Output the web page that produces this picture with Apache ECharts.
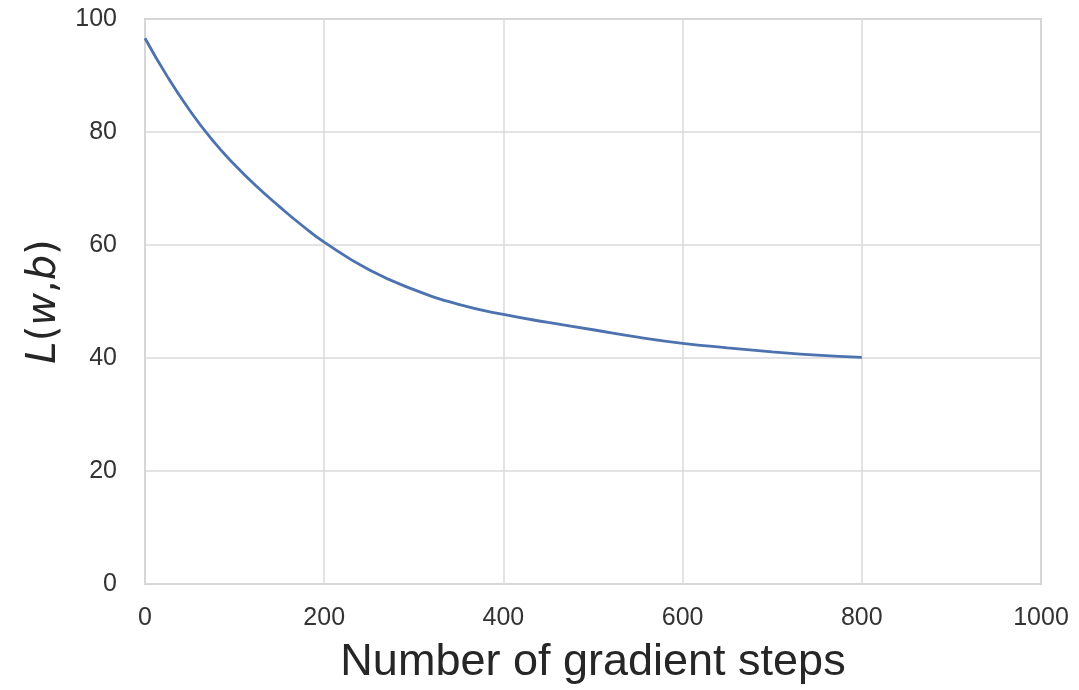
<!DOCTYPE html>
<html>
<head>
<meta charset="utf-8">
<script src="https://cdn.jsdelivr.net/npm/echarts@6/dist/echarts.min.js"></script>
<style>
html,body{margin:0;padding:0;background:#fff;}
#chart{width:1079px;height:690px;}
</style>
</head>
<body>
<div id="chart"></div>
<script>
const steps = [0, 25, 50, 75, 100, 125, 150, 175, 200, 250, 300, 350, 400, 450, 500, 550, 600, 650, 700, 750, 800];
const loss = [96.6, 89.8, 83.8, 78.6, 74.2, 70.3, 66.8, 63.5, 60.5, 55.6, 52.1, 49.5, 47.7, 46.3, 45.0, 43.7, 42.6, 41.8, 41.1, 40.5, 40.1];
const xTicks = [0, 200, 400, 600, 800, 1000];
const yTicks = [0, 20, 40, 60, 80, 100];

const chart = echarts.init(document.getElementById('chart'), null, {renderer: 'canvas'});
const font = '"Liberation Sans", Arial, sans-serif';
chart.setOption({
  animation: false,
  backgroundColor: '#ffffff',
  grid: {left: 145, right: 38, top: 19, bottom: 105, show: true, borderColor: '#cccccc', borderWidth: 2, backgroundColor: 'transparent'},
  xAxis: {
    type: 'value', min: xTicks[0], max: xTicks[xTicks.length - 1], interval: 200,
    name: 'Number of gradient steps', nameLocation: 'middle', nameGap: 56,
    nameTextStyle: {fontFamily: font, fontSize: 45, color: '#262626'},
    axisLine: {show: false}, axisTick: {show: false},
    axisLabel: {fontFamily: font, fontSize: 25, color: '#333333', margin: 22, formatter: v => String(v)},
    splitLine: {show: true, lineStyle: {color: '#dadada', width: 1.5}}
  },
  yAxis: {
    type: 'value', min: yTicks[0], max: yTicks[yTicks.length - 1], interval: 20,
    name: '{i|L}{n|(}{i|w}{n|,}{i|b}{n|)}', nameLocation: 'middle', nameGap: 78,
    nameTextStyle: {
      fontFamily: font, fontSize: 42, color: '#262626',
      rich: {
        i: {fontFamily: '"DejaVu Sans", sans-serif', fontStyle: 'italic', fontSize: 40, color: '#262626'},
        n: {fontFamily: '"DejaVu Sans", sans-serif', fontSize: 40, color: '#262626'}
      }
    },
    axisLine: {show: false}, axisTick: {show: false},
    axisLabel: {fontFamily: font, fontSize: 25, color: '#333333', margin: 28},
    splitLine: {show: true, lineStyle: {color: '#dadada', width: 1.5}}
  },
  series: [{
    type: 'line', smooth: true, showSymbol: false,
    data: steps.map((s, i) => [s, loss[i]]),
    lineStyle: {color: '#4c72b0', width: 2.8},
    itemStyle: {color: '#4c72b0'}
  }]
});
</script>
</body>
</html>
